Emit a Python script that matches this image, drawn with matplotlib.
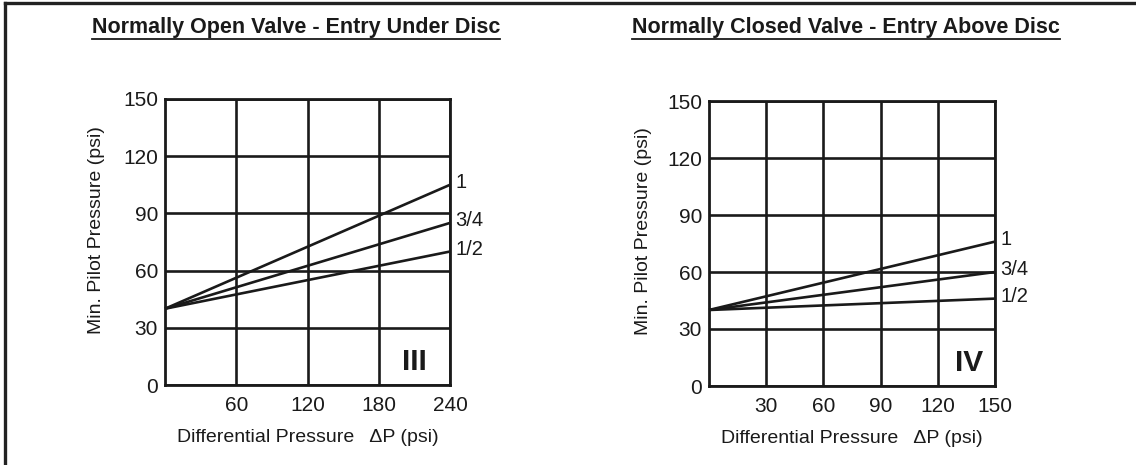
import numpy as np
import matplotlib
matplotlib.use("Agg")
import matplotlib.pyplot as plt
from matplotlib.lines import Line2D

plt.rcParams['font.family'] = ['Liberation Sans', 'DejaVu Sans']

# left chart: normally open valve
open_title = "Normally Open Valve - Entry Under Disc"
open_xticks = [60, 120, 180, 240]
open_dp = [0, 240]
open_sizes = ["1", "3/4", "1/2"]
open_pilot = [[40, 105], [40, 85], [40, 70]]

# right chart: normally closed valve
closed_title = "Normally Closed Valve - Entry Above Disc"
closed_xticks = [30, 60, 90, 120, 150]
closed_dp = [0, 150]
closed_sizes = ["1", "3/4", "1/2"]
closed_pilot = [[40, 76], [40, 60], [40, 46]]

yticks = [0, 30, 60, 90, 120, 150]
ylabel = "Min. Pilot Pressure (psi)"
xlabel = "Differential Pressure   \u0394P (psi)"

W, H = 1136, 465
ink = '#1a1a1a'
fig = plt.figure(figsize=(W/100, H/100), dpi=100)

# frame lines at left and top
fig.add_artist(Line2D([5/W, 5/W], [0, 1-3/H], color='#222222', lw=2.4))
fig.add_artist(Line2D([5/W, 1], [1-3/H, 1-3/H], color='#222222', lw=2.4))


def panel(rect, title, title_x, xmax, xticks, dp, sizes, pilot, numeral, num_x, ylab_xy):
    ax = fig.add_axes(rect)
    ax.set_xlim(0, xmax)
    ax.set_ylim(0, 150)
    ax.set_xticks(xticks)
    ax.set_yticks(yticks)
    ax.grid(True, color=ink, lw=1.9)
    ax.set_axisbelow(True)
    for s in ax.spines.values():
        s.set_linewidth(2.0)
        s.set_color(ink)
    ax.tick_params(length=0, labelsize=15, colors=ink)
    ax.tick_params(axis='y', pad=5)
    ax.tick_params(axis='x', pad=8)
    ax.set_xlabel(xlabel, fontsize=14, color=ink, labelpad=10)
    ax.set_ylabel(ylabel, fontsize=14, color=ink)
    ax.yaxis.set_label_coords(*ylab_xy)

    for lab, ys in zip(sizes, pilot):
        ax.plot(dp, ys, color=ink, lw=1.9, solid_capstyle='butt', clip_on=False)
        ax.annotate(lab, xy=(dp[-1], ys[-1]), xytext=(4, 1.5), textcoords='offset points',
                    ha='left', va='center', fontsize=14.5, color=ink)

    ax.text(num_x, 0.08, numeral, transform=ax.transAxes, ha='center', va='center',
            fontsize=21.5, fontweight='bold', color=ink)

    t = fig.text(title_x/W, 1-28/H, title, ha='center', va='center',
                 fontsize=15.5, fontweight='bold', color=ink)
    return ax, t


ax1, t1 = panel([165/W, 1-385/H, 285/W, 286/H], open_title, 296,
                240, open_xticks, open_dp, open_sizes, open_pilot, "III", 0.874,
                (-0.21, 0.54))
ax2, t2 = panel([709/W, 1-386/H, 286/W, 285/H], closed_title, 846,
                150, closed_xticks, closed_dp, closed_sizes, closed_pilot, "IV", 0.909,
                (-0.199, 0.545))

# underline the titles
fig.canvas.draw()
r = fig.canvas.get_renderer()
for t in (t1, t2):
    bb = t.get_window_extent(r).transformed(fig.transFigure.inverted())
    fig.add_artist(Line2D([bb.x0, bb.x1], [bb.y0 - 0.5/H, bb.y0 - 0.5/H], color=ink, lw=1.3))

fig.savefig("out.png", dpi=100)
